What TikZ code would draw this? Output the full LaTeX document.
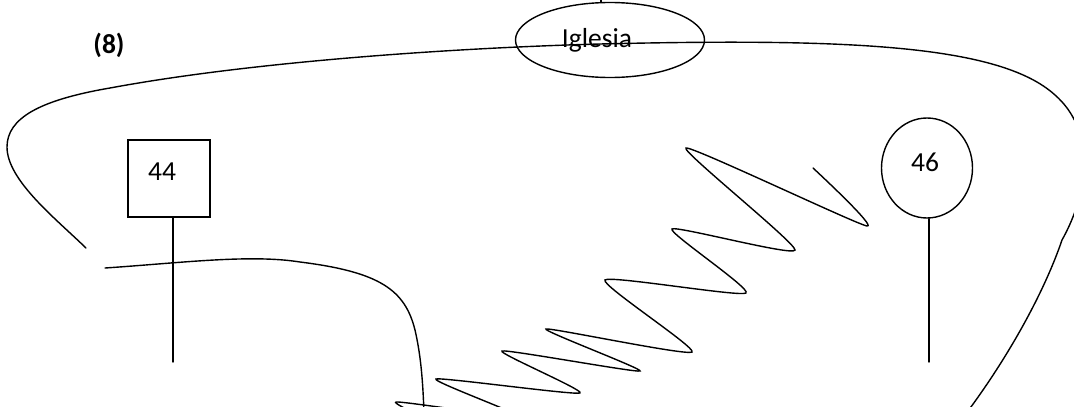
\documentclass[tikz,border=0pt]{standalone}
\usepackage{fontspec}
\setmainfont{Carlito}
\usetikzlibrary{shapes.geometric}
\begin{document}
\begin{tikzpicture}[x=1pt,y=-1pt,line width=1.4pt,
  txt/.style={font=\fontsize{27.5}{32}\selectfont},
  boxnode/.style={draw,rectangle,inner sep=0pt,minimum width=82pt,minimum height=77pt},
  ovalnode/.style={draw,ellipse,inner sep=0pt},
  stroke/.style={line width=1.4pt,line cap=round}]
\useasboundingbox (0,0) rectangle (1074,407);
\fill[white] (0,0) rectangle (1074,407);
\begin{scope}
\clip (0,0) rectangle (1074,407);
% big outer curve
\draw[stroke] (86,248) .. controls (55,218) and (7,180) .. (7,147)
  .. controls (7,118) and (40,100) .. (110,88)
  .. controls (250,62) and (450,48) .. (600,44)
  .. controls (850,38) and (1000,45) .. (1055,95)
  .. controls (1095,130) and (1090,190) .. (1062,240)
  .. controls (1045,290) and (1010,355) .. (965,415);
% lower curve
\draw[stroke] (105,268) .. controls (180,263) and (250,254) .. (300,262)
  .. controls (380,272) and (405,290) .. (415,330)
  .. controls (422,360) and (423,390) .. (424,412);
% zigzag
\draw[stroke] plot[smooth,tension=0.3] coordinates {(450,430) (396,402) (520,417) (436,379)
  (580,393) (502,351) (640,371) (546,329) (692,352)
  (605,280) (746,293) (672,229) (795,250) (686,148)
  (867,226) (813,168)};
\end{scope}
% labels and nodes
\node[txt,font=\fontsize{27.5}{32}\bfseries] (n8) at (109,45) {(8)};
\node[ovalnode,minimum width=189pt,minimum height=75pt,
  label={[txt,shift={(-13pt,0pt)}]center:Iglesia}] (igl) at (610,40) {};
\node[boxnode,label={[txt,shift={(-7pt,7pt)}]center:44}] (b44) at (169,178.5) {};
\node[ovalnode,minimum width=91pt,minimum height=100pt,
  label={[txt,shift={(-2pt,6pt)}]center:46}] (c46) at (927,168) {};
\coordinate (e44) at (173,362);
\coordinate (e46) at (929,362);
\coordinate (etop) at (601,-2);
\draw[stroke] (b44.south -| e44) -- (e44);
\draw[stroke] (c46.south -| e46) -- (e46);
\draw[stroke] (igl.north -| etop) -- (etop);
\end{tikzpicture}
\end{document}
